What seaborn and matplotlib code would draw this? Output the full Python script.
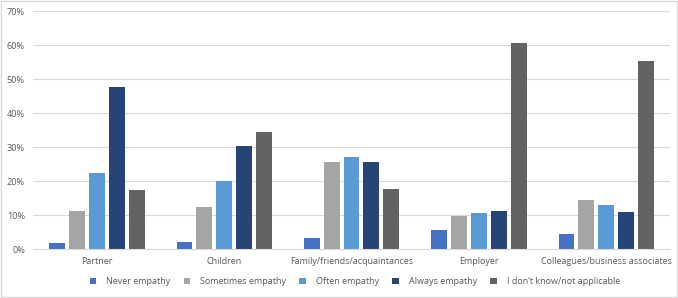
import matplotlib
matplotlib.use("Agg")
import matplotlib.pyplot as plt
import seaborn as sns
import pandas as pd
from matplotlib.ticker import PercentFormatter, MultipleLocator
from matplotlib.patches import Rectangle

categories = ["Partner", "Children", "Family/friends/acquaintances", "Employer",
              "Colleagues/business associates"]
series = ["Never empathy", "Sometimes empathy", "Often empathy", "Always empathy",
          "I don\u2019t know/not applicable"]
never = [1.9, 2.1, 3.2, 5.6, 4.4]
sometimes = [11.2, 12.4, 25.6, 9.7, 14.4]
often = [22.4, 20.0, 27.1, 10.6, 12.9]
always = [47.6, 30.3, 25.6, 11.2, 10.9]
dontknow = [17.4, 34.4, 17.6, 60.6, 55.3]
colors = ["#4472C4", "#A5A5A5", "#5B9BD5", "#264478", "#636363"]

rows = []
for s, vals in zip(series, [never, sometimes, often, always, dontknow]):
    for c, v in zip(categories, vals):
        rows.append({"category": c, "series": s, "value": v})
df = pd.DataFrame(rows)

sns.set_theme(style="white")
plt.rcParams["font.family"] = ["Open Sans", "DejaVu Sans"]

fig = plt.figure(figsize=(6.78, 2.98), dpi=100)
ax = fig.add_axes([0.049, 0.164, 0.939, 0.799])
sns.barplot(data=df, x="category", y="value", hue="series", order=categories,
            hue_order=series, palette=colors, width=0.78, gap=0.2,
            saturation=1, ax=ax, legend=True, errorbar=None,
            linewidth=0)

ax.set_ylim(0, 70)
ax.yaxis.set_major_locator(MultipleLocator(10))
ax.yaxis.set_major_formatter(PercentFormatter(decimals=0))
ax.grid(axis="y", color="#D9D9D9", linewidth=0.8)
ax.set_axisbelow(True)
for sp in ["top", "right", "left"]:
    ax.spines[sp].set_visible(False)
ax.spines["bottom"].set_color("#D9D9D9")
ax.spines["bottom"].set_linewidth(0.8)
ax.set_xlabel("")
ax.set_ylabel("")
ax.tick_params(axis="x", length=0, labelsize=6.5, colors="#595959", pad=6)
ax.tick_params(axis="y", length=0, labelsize=6.6, colors="#595959", pad=6)
ax.set_xlim(-0.5, 4.5)

handles, labels = ax.get_legend_handles_labels()
ax.legend(handles, labels, loc="upper center", bbox_to_anchor=(0.505, -0.085),
          ncol=5, frameon=False, fontsize=6.5, handlelength=0.7, handleheight=0.7,
          columnspacing=1.5, handletextpad=1.1, labelcolor="#595959")

fig.patches.append(Rectangle((0.001, 0.002), 0.997, 0.995, transform=fig.transFigure,
                             fill=False, edgecolor="#D9D9D9", linewidth=1))
fig.savefig("out.png", dpi=100)
